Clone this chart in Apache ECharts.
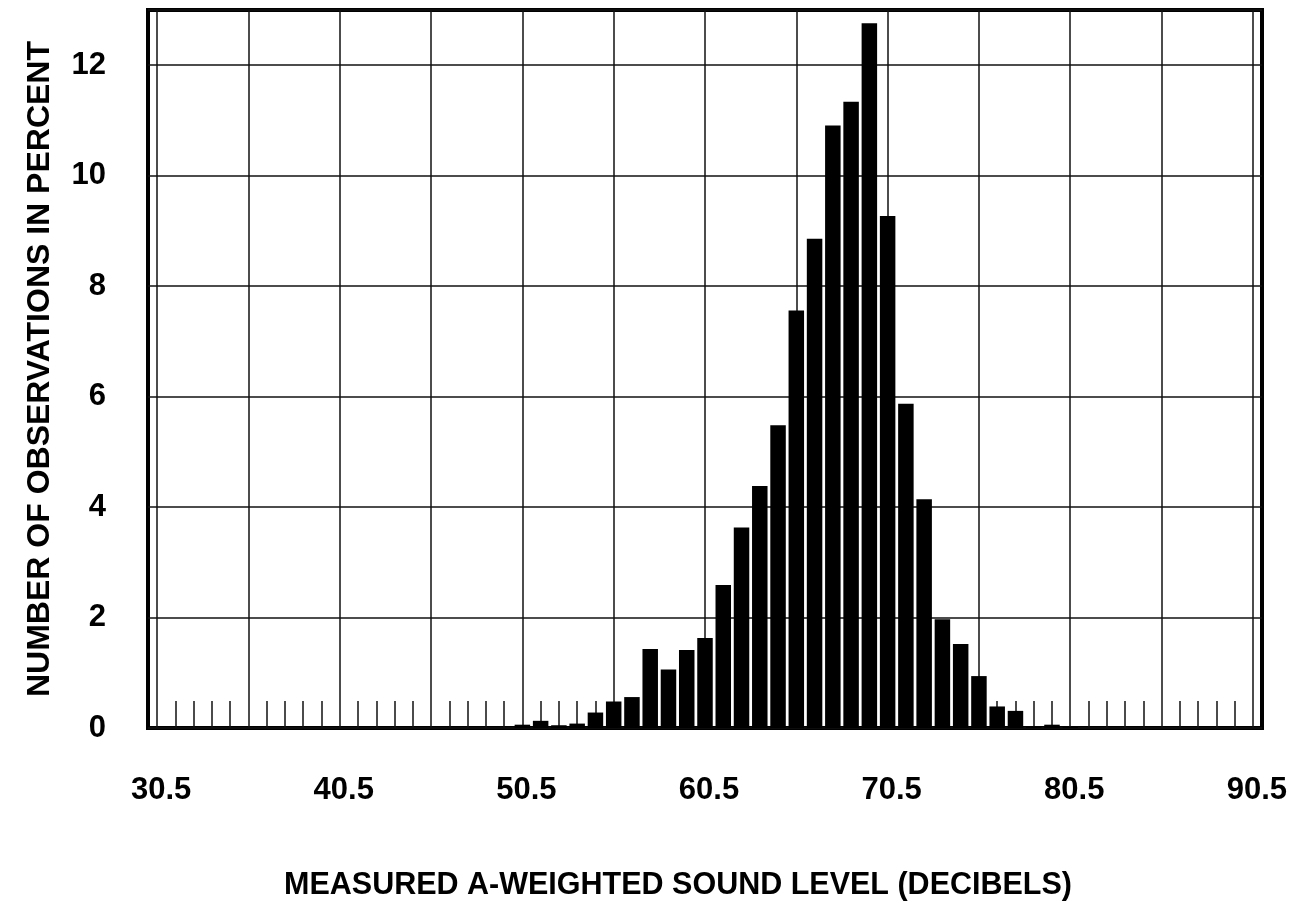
<!DOCTYPE html>
<html>
<head>
<meta charset="utf-8">
<script src="https://cdn.jsdelivr.net/npm/echarts@6/dist/echarts.min.js"></script>
<style>
html,body{margin:0;padding:0;background:#fff;}
#chart{width:1299px;height:911px;}
</style>
</head>
<body>
<div id="chart"></div>
<script>
// Bin centres (dB) and percentage of observations
const binCenters = [
  30.5,31.5,32.5,33.5,34.5,35.5,36.5,37.5,38.5,39.5,
  40.5,41.5,42.5,43.5,44.5,45.5,46.5,47.5,48.5,49.5,
  50.5,51.5,52.5,53.5,54.5,55.5,56.5,57.5,58.5,59.5,
  60.5,61.5,62.5,63.5,64.5,65.5,66.5,67.5,68.5,69.5,
  70.5,71.5,72.5,73.5,74.5,75.5,76.5,77.5,78.5,79.5,
  80.5,81.5,82.5,83.5,84.5,85.5,86.5,87.5,88.5,89.5,90.5
];
const percents = [
  0,0,0,0,0,0,0,0,0,0,
  0,0,0,0,0,0,0,0,0,0,
  0.06,0.13,0.05,0.08,0.28,0.48,0.56,1.43,1.06,1.41,
  1.63,2.59,3.63,4.38,5.48,7.56,8.86,10.91,11.34,12.76,
  9.27,5.87,4.14,1.97,1.52,0.94,0.39,0.31,0.03,0.06,
  0.02,0,0,0,0,0,0,0,0,0,0
];
const xTickLabels = ['30.5','40.5','50.5','60.5','70.5','80.5','90.5'];
const yTicks = [0,2,4,6,8,10,12];

const FONT = "'Liberation Sans', Arial, sans-serif";
const chart = echarts.init(document.getElementById('chart'), null, {renderer:'canvas'});
const binW = 1114 / 61;

const option = {
  backgroundColor: '#fff',
  animation: false,
  grid: [
    {left:148, right:37, top:10, bottom:183, show:true, borderColor:'#000', borderWidth:4, backgroundColor:'transparent'},
    {left:148 + binW/2, right:37 + binW/2, top:10, bottom:183}
  ],
  xAxis: [
    {gridIndex:0, type:'value', min:30, max:91, show:false},
    {gridIndex:1, type:'value', min:30.5, max:90.5, interval:5,
     axisLine:{show:false},
     axisTick:{show:false, inside:true},
     minorTick:{show:true, splitNumber:5, length:27, lineStyle:{color:'#111', width:1.5}},
     splitLine:{show:true, lineStyle:{color:'#111', width:1.5}},
     axisLabel:{
       margin:47, fontFamily:FONT, fontWeight:'bold', fontSize:31, color:'#000',
       padding:[0,0,0,8],
       formatter:function(v){
         const s = v.toFixed(1);
         return xTickLabels.indexOf(s) >= 0 ? s : '';
       }
     },
     name:'MEASURED A-WEIGHTED SOUND LEVEL (DECIBELS)',
     nameLocation:'middle', nameGap:142,
     nameTextStyle:{fontFamily:FONT, fontWeight:'bold', fontSize:30.5, color:'#000', padding:[0,54,0,0]}
    }
  ],
  yAxis: [
    {gridIndex:0, type:'value', min:0, max:13, interval:2,
     axisLine:{show:false}, axisTick:{show:false},
     splitLine:{show:true, lineStyle:{color:'#111', width:1.5}},
     axisLabel:{
       margin:42, fontFamily:FONT, fontWeight:'bold', fontSize:31, color:'#000',
       showMaxLabel:false,
       formatter:function(v){ return yTicks.indexOf(v) >= 0 ? String(v) : ''; }
     },
     name:'NUMBER OF OBSERVATIONS IN PERCENT',
     nameLocation:'middle', nameGap:92,
     nameTextStyle:{fontFamily:FONT, fontWeight:'bold', fontSize:32, color:'#000'}
    },
    {gridIndex:1, type:'value', min:0, max:13, show:false}
  ],
  series: [{
    type:'bar', xAxisIndex:0, yAxisIndex:0,
    barWidth:15.5,
    itemStyle:{color:'#000'},
    data: binCenters.map((c,i) => [c, percents[i]]),
    z:3
  }]
};
chart.setOption(option);
</script>
</body>
</html>
